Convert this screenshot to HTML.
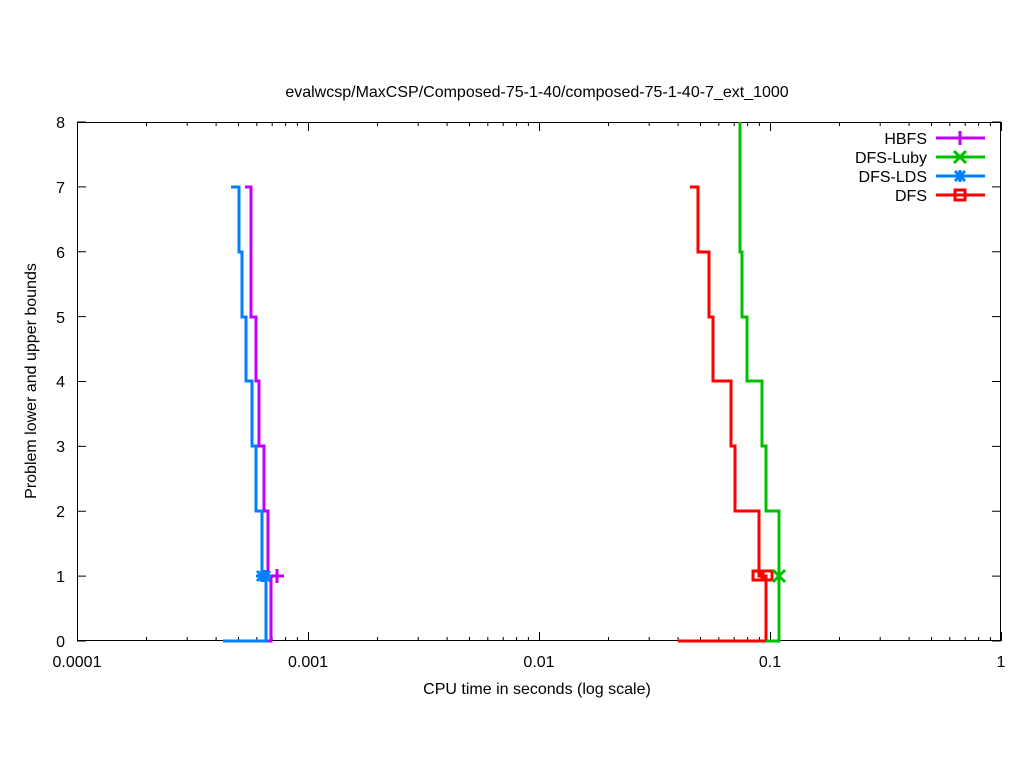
<!DOCTYPE html>
<html><head><meta charset="utf-8"><style>body{margin:0;background:#fff}svg{display:block}text{font-family:"Liberation Sans",sans-serif;font-size:16px;fill:#000}</style></head>
<body>
<svg id="s" width="1024" height="768" xmlns="http://www.w3.org/2000/svg">
<rect width="1024" height="768" fill="#fff"/>
<text x="537" y="97" text-anchor="middle">evalwcsp/MaxCSP/Composed-75-1-40/composed-75-1-40-7_ext_1000</text>
<g id="ticks" stroke="#000" stroke-width="1"></g>
<rect x="77.5" y="122.5" width="923" height="518" fill="none" stroke="#000"/>
<g text-anchor="end">
<text x="65" y="647">0</text><text x="65" y="582">1</text><text x="65" y="517">2</text><text x="65" y="452">3</text><text x="65" y="387">4</text><text x="65" y="323">5</text><text x="65" y="258">6</text><text x="65" y="193">7</text><text x="65" y="128">8</text>
</g>
<g text-anchor="middle">
<text x="77" y="667">0.0001</text><text x="308" y="667">0.001</text><text x="539" y="667">0.01</text><text x="770" y="667">0.1</text><text x="1001" y="667">1</text>
<text x="537" y="694">CPU time in seconds (log scale)</text>
</g>
<text transform="translate(36,381) rotate(-90)" text-anchor="middle">Problem lower and upper bounds</text>
<g fill="none" stroke-width="3">
<path stroke="#c000ff" d="M245,187H251V317H256V381H259V446H264V511H268V576H271V641H239"/>
<path stroke="#0080ff" d="M231,187H239V252H242V317H246V381H252V446H256V511H262V576H266V641H223"/>
<path stroke="#ff0000" d="M690,187H698V252H709V317H713V381H731V446H735V511H759V576H766V641H678"/>
<path stroke="#00c000" d="M740,122V252H742V317H747V381H762V446H766V511H779V641H766"/>
</g>
<g stroke-width="3" fill="none">
<path stroke="#c000ff" d="M270,576h14M277,569v14"/>
<path stroke="#0080ff" d="M256,576h12M262,570v12M257,571l10,10M257,581l10,-10"/>
<path stroke="#0080ff" d="M259,576h12M265,570v12M260,571l10,10M260,581l10,-10"/>
<path stroke="#ff0000" d="M753,571h9v9h-9zM763,571h9v9h-9z"/>
<path stroke="#00c000" d="M773,570l12,12M773,582l12,-12"/>
</g>
<g text-anchor="end">
<text x="927" y="144">HBFS</text><text x="927" y="163">DFS-Luby</text><text x="927" y="182">DFS-LDS</text><text x="927" y="201">DFS</text>
</g>
<g stroke-width="3" fill="none">
<path stroke="#c000ff" d="M936,138h49"/><path stroke="#00c000" d="M936,157h49"/><path stroke="#0080ff" d="M936,176h49"/><path stroke="#ff0000" d="M936,195h49"/>
</g>
<g stroke-width="3" fill="none">
<path stroke="#c000ff" d="M953,138h14M960,131v14"/>
<path stroke="#00c000" d="M954,151l12,12M954,163l12,-12"/>
<path stroke="#0080ff" d="M954,176h12M960,170v12M955,171l10,10M955,181l10,-10"/>
<path stroke="#ff0000" d="M955,190h10v10h-10z"/>
</g>
</svg>
<script>
var g=document.getElementById('ticks'),d='';
for(var k=0;k<=4;k++){var x=77+231*k+0.5;d+='M'+x+',641v-9M'+x+',122v9';
 if(k<4)for(var m=2;m<10;m++){var xm=(77+231*(k+Math.log10(m))).toFixed(1);d+='M'+xm+',641v-4M'+xm+',122v4';}}
for(var i=0;i<=8;i++){var y=(641-64.875*i).toFixed(1);d+='M77,'+y+'h9M1001,'+y+'h-9';}
var p=document.createElementNS('http://www.w3.org/2000/svg','path');p.setAttribute('d',d);g.appendChild(p);
</script>
</body></html>
